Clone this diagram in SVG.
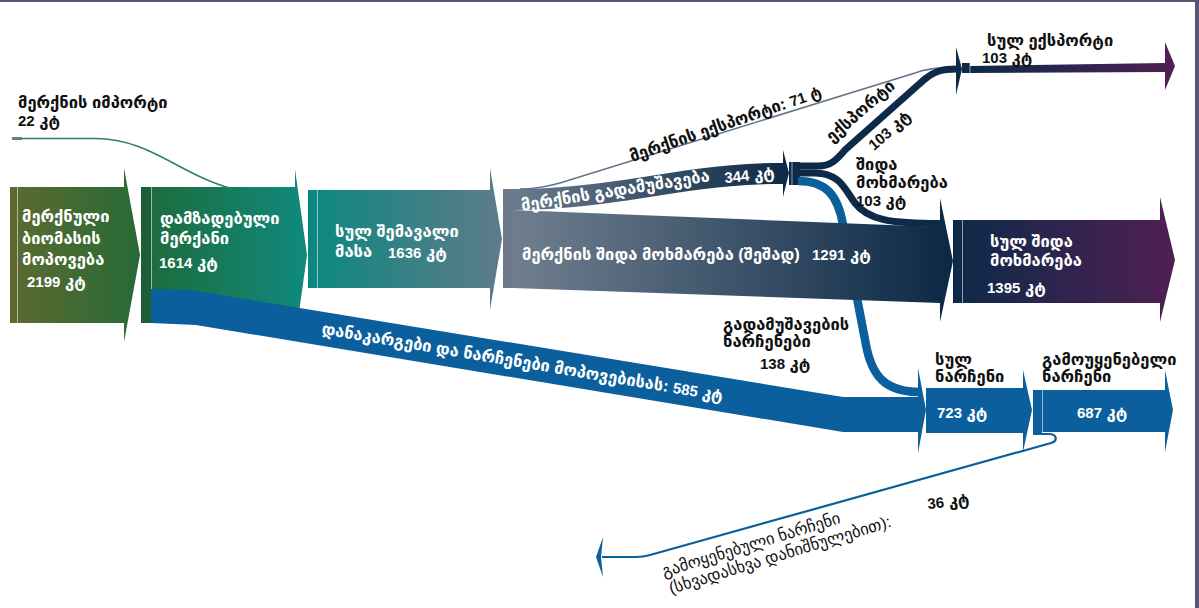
<svg xmlns="http://www.w3.org/2000/svg" width="1199" height="608" viewBox="0 0 1199 608">
<style>
.t{font-family:"Liberation Sans","DejaVu Sans",sans-serif;font-size:16.5px;font-weight:bold}
.n{font-size:15px}
.w{fill:#ffffff}
.k{fill:#111111}
.r{font-weight:normal}
.sep{stroke:#ffffff;stroke-opacity:0.55;stroke-width:1;fill:none}
.blue{fill:#0a5f9c}
</style>
<defs>
<linearGradient id="g1" x1="0" x2="1"><stop offset="0" stop-color="#5c6a30"/><stop offset="1" stop-color="#276a36"/></linearGradient>
<linearGradient id="g2" x1="0" x2="1"><stop offset="0" stop-color="#1e6a3a"/><stop offset="1" stop-color="#0f8a7e"/></linearGradient>
<linearGradient id="g3" x1="0" x2="1"><stop offset="0" stop-color="#0b887f"/><stop offset="1" stop-color="#5f7b8b"/></linearGradient>
<linearGradient id="g4" gradientUnits="userSpaceOnUse" x1="513" x2="952" y1="0" y2="0"><stop offset="0" stop-color="#707f8f"/><stop offset="1" stop-color="#0c2846"/></linearGradient>
<linearGradient id="g5" gradientUnits="userSpaceOnUse" x1="513" x2="790" y1="0" y2="0"><stop offset="0" stop-color="#6a7b8e"/><stop offset="1" stop-color="#0c2846"/></linearGradient>
<linearGradient id="g6" x1="0" x2="1"><stop offset="0" stop-color="#0d2a48"/><stop offset="1" stop-color="#501f53"/></linearGradient>
</defs>

<rect x="0" y="0" width="1199" height="2" fill="#5a5470"/>
<rect x="1195" y="0" width="4" height="608" fill="#5a5470"/>

<g id="n-import">
<rect x="12" y="137" width="10" height="3" fill="#6d7d70"/>
<text class="t k" x="18" y="108">მერქნის იმპორტი</text>
<text class="t k" x="18" y="126"><tspan class="n">22</tspan> კტ</text>
</g>

<g id="n1">
<polygon points="10,187 124,187 124,168 140,255 124,342 124,323 10,323" fill="url(#g1)"/>
<line class="sep" x1="17.5" y1="187" x2="17.5" y2="323"/>
<text class="t w" x="22" y="222">მერქნული</text>
<text class="t w" x="22" y="244">ბიომასის</text>
<text class="t w" x="22" y="265">მოპოვება</text>
<text class="t w" x="27" y="287"><tspan class="n">2199</tspan> კტ</text>
</g>

<g id="n2">
<polygon points="141,187 295,187 295,169 307,255 295,341 295,323 141,323" fill="url(#g2)"/>
<rect x="141" y="187" width="10" height="136" fill="#1d5e34"/>
<line class="sep" x1="151.5" y1="187" x2="151.5" y2="289"/>
<text class="t w" x="160" y="224">დამზადებული</text>
<text class="t w" x="160" y="244">მერქანი</text>
<text class="t w" x="159" y="268"><tspan class="n">1614</tspan> კტ</text>
</g>

<g id="n3">
<polygon points="308,190 490,190 490,168 502,239 490,310 490,288 308,288" fill="url(#g3)"/>
<line class="sep" x1="317.5" y1="190" x2="317.5" y2="288"/>
<text class="t w" x="335" y="237">სულ შემავალი</text>
<text class="t w" x="335" y="257">მასა</text>
<text class="t w" x="388" y="258"><tspan class="n">1636</tspan> კტ</text>
</g>

<g id="n4">
<rect x="503" y="189" width="10" height="99" fill="#6c7989"/>
<line class="sep" x1="513.5" y1="189" x2="513.5" y2="288"/>
</g>

<g id="n5">
<rect x="789" y="162" width="11" height="23" fill="#0d2a48"/>
<line class="sep" x1="792" y1="162" x2="792" y2="185"/>
</g>

<g id="n-export">
<rect x="962" y="63" width="8" height="10" fill="#0d2a48"/>
<polygon points="970,66 1165,63 1165,42 1175,66 1165,90 1165,72 970,73" fill="url(#g6)"/>
<line class="sep" x1="970" y1="63" x2="970" y2="73"/>
<text class="t k" x="987" y="46">სულ ექსპორტი</text>
<text class="t k" x="982" y="63"><tspan class="n">103</tspan> კტ</text>
</g>

<g id="n-domestic">
<polygon points="953,220 1160,220 1160,197 1175,260 1160,322 1160,303 953,303" fill="url(#g6)"/>
<line class="sep" x1="962.5" y1="220" x2="962.5" y2="303"/>
<text class="t w" x="990" y="247">სულ შიდა</text>
<text class="t w" x="990" y="266">მოხმარება</text>
<text class="t w" x="987" y="293"><tspan class="n">1395</tspan> კტ</text>
</g>

<g id="n-waste">
<polygon points="926,388 1023,388 1023,370 1032,410 1023,452 1023,433 926,433" class="blue"/>
<text class="t k" x="935" y="365">სულ</text>
<text class="t k" x="935" y="382">ნარჩენი</text>
<text class="t w" x="937" y="418"><tspan class="n">723</tspan> კტ</text>
</g>

<g id="n-unused">
<polygon points="1033,390 1165,390 1165,370 1173,410 1165,452 1165,432 1042,432 1042,435 1033,435" class="blue"/>
<line class="sep" x1="1042.5" y1="390" x2="1042.5" y2="432"/>
<text class="t k" x="1042" y="365">გამოუყენებელი</text>
<text class="t k" x="1042" y="382">ნარჩენი</text>
<text class="t w" x="1077" y="418"><tspan class="n">687</tspan> კტ</text>
</g>

<g id="connectors">
<path d="M22,138.5 L95,138.5 C150,138.5 180,175 233,189" fill="none" stroke="#2f8160" stroke-width="1.6"/>
<path d="M798,181 C826,181 838,195 843,225 L866,345 C872,377 886,392 920,392" fill="none" stroke="#0a5f9c" stroke-width="8.5"/>
<path d="M151,289 L190,290 L843,397 L920,397 L920,432 L843,432 L196,325 L151,323 Z" class="blue"/>
<polygon points="918,388 918,368 926,410 918,453 918,433" class="blue"/>
<path d="M513,189 C620,189 680,163 783,163 L783,150 L789,173 L783,197 L783,184 C680,184 620,210 513,210 Z" fill="url(#g5)"/>
<path d="M513,210 L940,227 L940,198 L953,261 L940,322 L940,303 L513,288 Z" fill="url(#g4)"/>
<path d="M520,189 C540,189 548,186 560,183 L915,73 C925,69 935,67.5 957,67.5" fill="none" stroke="#5f7389" stroke-width="1.5"/>
<path d="M798,166 L818,166 C832,166 838,158 845,150 L925,79 C935,71 942,69 957,69" fill="none" stroke="#0d2a48" stroke-width="7"/>
<polygon points="956,47 962,69 956,95" fill="#0d2a48"/>
<path d="M798,173 L815,173 C840,173 845,190 855,203 C868,220 890,223.5 941,223.5" fill="none" stroke="#0d2a48" stroke-width="7"/>
<path d="M1042,434 L1049,434 C1057,434 1058,441 1051,443 L650,555 C645,556.5 640,557 636,557 L602,557" fill="none" stroke="#0a5f9c" stroke-width="2.2"/>
<polygon points="603,537 596,557 603,577 601,557" fill="#0a5f9c"/>

<text class="t w" transform="translate(522,211) rotate(-9)">მერქნის გადამუშავება</text>
<text class="t w" transform="translate(725,183) rotate(-6)"><tspan class="n">344</tspan> კტ</text>
<text class="t w" x="522" y="260">მერქნის შიდა მოხმარება (შეშად)</text>
<text class="t w" x="812" y="260"><tspan class="n">1291</tspan> კტ</text>
<text class="t k" transform="translate(632,162) rotate(-19)">მერქნის ექსპორტი: <tspan class="n">71</tspan> ტ</text>
<text class="t k" transform="translate(832,143) rotate(-41)">ექსპორტი</text>
<text class="t k" transform="translate(874,151) rotate(-41)"><tspan class="n">103</tspan> კტ</text>
<text class="t k" x="856" y="170">შიდა</text>
<text class="t k" x="856" y="188">მოხმარება</text>
<text class="t k" x="856" y="206"><tspan class="n">103</tspan> კტ</text>
<text class="t k" x="723" y="330">გადამუშავების</text>
<text class="t k" x="723" y="347">ნარჩენები</text>
<text class="t k" x="760" y="369"><tspan class="n">138</tspan> კტ</text>
<text class="t w" transform="translate(321,334) rotate(9.5)">დანაკარგები და ნარჩენები მოპოვებისას: <tspan class="n">585</tspan> კტ</text>
<text class="t k r" transform="translate(664,577) rotate(-17)">გამოყენებული ნარჩენი</text>
<text class="t k r" transform="translate(671,594) rotate(-17)">(სხვადასხვა დანიშნულებით):</text>
<text class="t k" transform="translate(928,509) rotate(-6)"><tspan class="n">36</tspan> კტ</text>
</g>
</svg>
